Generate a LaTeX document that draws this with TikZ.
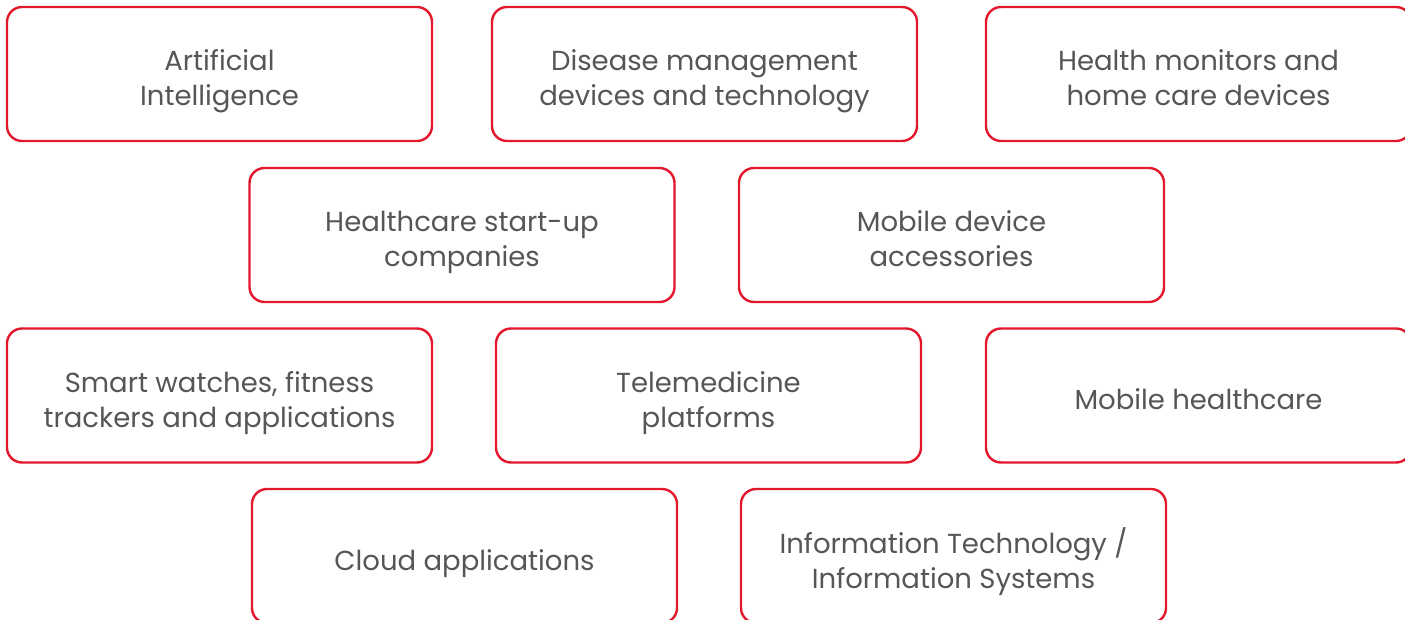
\documentclass[tikz,border=0pt]{standalone}
\usepackage{fontspec}
\setmainfont{Poppins}
\definecolor{boxred}{HTML}{E3182D}
\definecolor{txtgray}{HTML}{565656}
\newcommand{\cardtext}[1]{\raisebox{-7pt}[\height][\depth]{\begin{tabular}{@{}c@{}}#1\end{tabular}}}
\begin{document}
\begin{tikzpicture}[x=1pt,y=-1pt,
  card/.style={draw=boxred, line width=2.4pt, rounded corners=15pt, fill=white,
    minimum width=425pt, minimum height=134pt, align=center, text=txtgray,
    font=\fontsize{27.5}{35}\selectfont, inner sep=0pt}]
\useasboundingbox[fill=white] (0,0) rectangle (1405,620);
\node[card] (ai) at (219.5,74) {\cardtext{Artificial\\Intelligence}};
\node[card] (dm) at (704.5,74) {\cardtext{Disease management\\devices and technology}};
\node[card] (hm) at (1198.5,74) {\cardtext{Health monitors and\\home care devices}};
\node[card] (hs) at (462,235) {\cardtext{Healthcare start-up\\companies}};
\node[card] (md) at (951.5,235) {\cardtext{Mobile device\\accessories}};
\node[card] (sw) at (219.5,395.5) {\cardtext{Smart watches, fitness\\trackers and applications}};
\node[card] (tp) at (708.5,395.5) {\cardtext{Telemedicine\\platforms}};
\node[card] (mh) at (1198.5,395.5) {\cardtext{Mobile healthcare}};
\node[card] (ca) at (464.5,556) {\cardtext{Cloud applications}};
\node[card] (it) at (953.5,556) {\cardtext{Information Technology /\\Information Systems}};
\end{tikzpicture}
\end{document}
